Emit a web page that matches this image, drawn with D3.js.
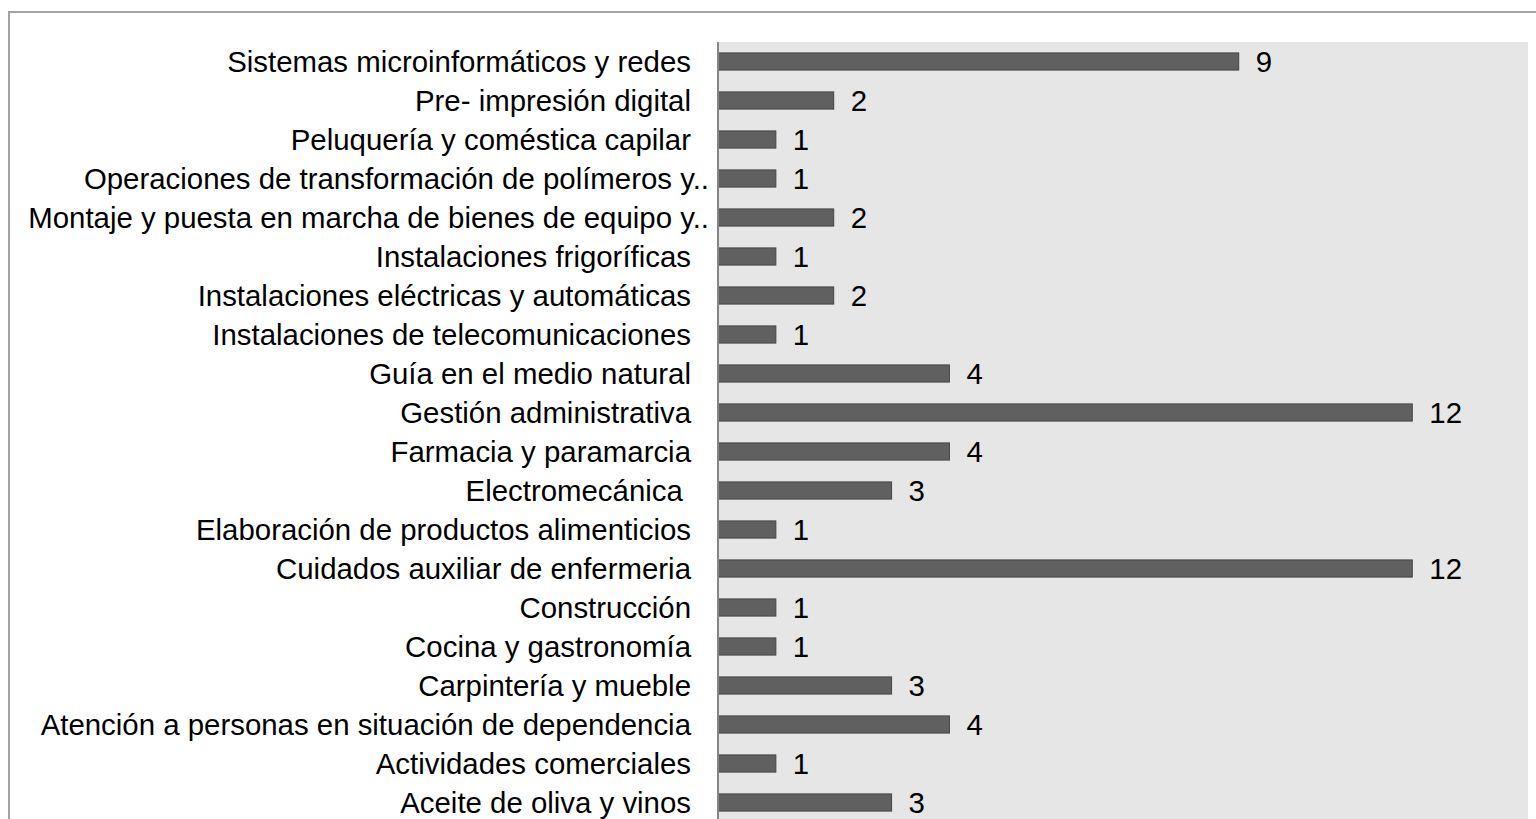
<!DOCTYPE html>
<html>
<head>
<meta charset="utf-8">
<script src="https://cdn.jsdelivr.net/npm/d3@7"></script>
<style>
  body { margin: 0; background: #fff; }
  svg { display: block; font-family: "Liberation Sans", Arial, sans-serif; }
</style>
</head>
<body>
<script>
// data, top to bottom as shown
var categories = [
    "Sistemas microinformáticos y redes",
    "Pre- impresión digital",
    "Peluquería y coméstica capilar",
    "Operaciones de transformación de polímeros y..",
    "Montaje y puesta en marcha de bienes de equipo y..",
    "Instalaciones frigoríficas",
    "Instalaciones eléctricas y automáticas",
    "Instalaciones de telecomunicaciones",
    "Guía en el medio natural",
    "Gestión administrativa",
    "Farmacia y paramarcia",
    "Electromecánica ",
    "Elaboración de productos alimenticios",
    "Cuidados auxiliar de enfermeria",
    "Construcción",
    "Cocina y gastronomía",
    "Carpintería y mueble",
    "Atención a personas en situación de dependencia",
    "Actividades comerciales",
    "Aceite de oliva y vinos"
];
var values = [9, 2, 1, 1, 2, 1, 2, 1, 4, 12, 4, 3, 1, 12, 1, 1, 3, 4, 1, 3];
var xMax = 14;

var svgWidth = 1536;
var svgHeight = 819;
var plotLeft = 718;
var plotRight = 1528;
var plotTop = 42;
var plotBottom = 822;
var fontSize = 29.4;

var data = categories.map(function (c, i) {
    return { name: c, value: values[i] };
});

var svg = d3.select("body")
    .append("svg")
    .attr("width", svgWidth)
    .attr("height", svgHeight);

// outer chart border (runs off the page right and bottom)
svg.append("rect")
    .attr("x", 9)
    .attr("y", 12)
    .attr("width", 1600)
    .attr("height", 900)
    .attr("fill", "none")
    .attr("stroke", "#a3a3a3")
    .attr("stroke-width", 2);

var x = d3.scaleLinear()
    .domain([0, xMax])
    .range([plotLeft, plotRight]);

var y = d3.scaleBand()
    .domain(categories)
    .range([plotTop, plotBottom])
    .paddingInner(0.56)
    .paddingOuter(0.28);

// plot area
svg.append("rect")
    .attr("x", plotLeft)
    .attr("y", plotTop)
    .attr("width", plotRight - plotLeft)
    .attr("height", plotBottom - plotTop)
    .attr("fill", "#e6e6e6");

svg.selectAll("rect.bar")
    .data(data)
    .enter()
    .append("rect")
    .attr("class", "bar")
    .attr("x", x(0))
    .attr("y", function (d) { return y(d.name); })
    .attr("width", function (d) { return x(d.value) - x(0); })
    .attr("height", y.bandwidth())
    .attr("fill", "#606060")
    .attr("stroke", "#454545")
    .attr("stroke-width", 1);

svg.selectAll("text.val")
    .data(data)
    .enter()
    .append("text")
    .attr("class", "val")
    .text(function (d) { return d.value; })
    .attr("x", function (d) { return x(d.value) + 17; })
    .attr("y", function (d) { return y(d.name) + y.bandwidth() / 2; })
    .attr("dy", "0.35em")
    .attr("font-size", fontSize)
    .attr("fill", "#000");

// category axis
var yAxis = d3.axisLeft(y).tickSize(0).tickPadding(27);
var gy = svg.append("g")
    .attr("transform", "translate(" + plotLeft + ",0)")
    .call(yAxis);
gy.select(".domain").remove();
gy.selectAll("text")
    .attr("font-size", fontSize)
    .attr("font-family", "'Liberation Sans', Arial, sans-serif")
    .attr("fill", "#000")
    .attr("dy", "0.35em")
    .style("white-space", "pre")
    .attr("x", function (d) { return d.slice(-2) === ".." ? -9 : -27; });

svg.append("line")
    .attr("x1", plotLeft)
    .attr("x2", plotLeft)
    .attr("y1", plotTop)
    .attr("y2", svgHeight + 5)
    .attr("stroke", "#868686")
    .attr("stroke-width", 2);
</script>
</body>
</html>
